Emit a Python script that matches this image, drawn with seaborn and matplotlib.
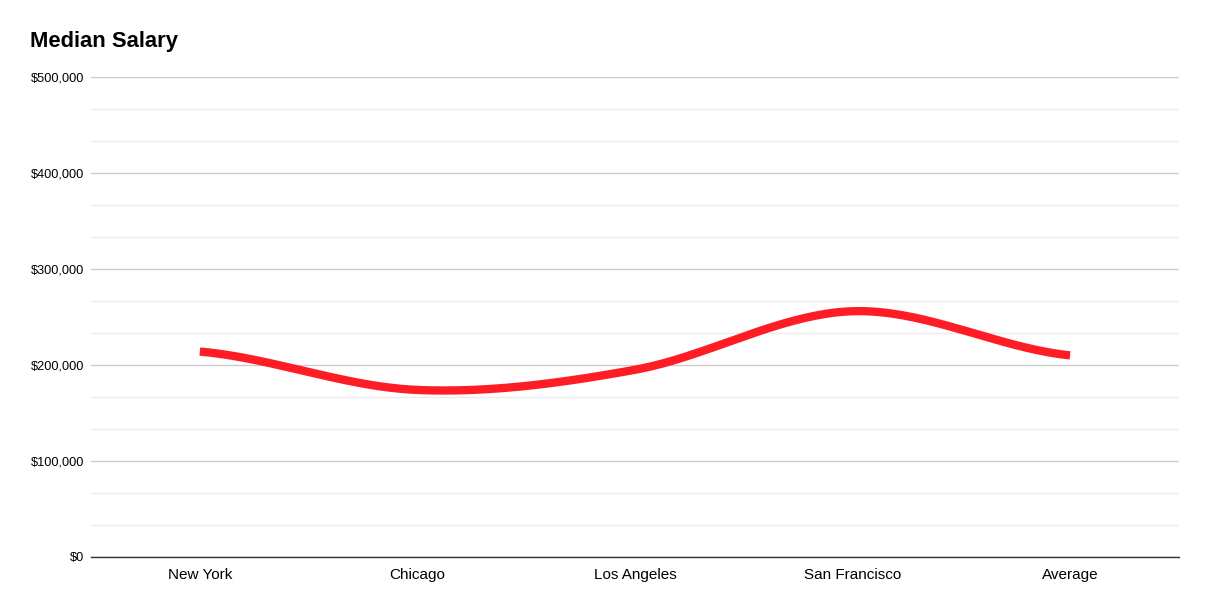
import numpy as np
import pandas as pd
import matplotlib.pyplot as plt
import seaborn as sns
from matplotlib.ticker import FuncFormatter, MultipleLocator

cities = ["New York", "Chicago", "Los Angeles", "San Francisco", "Average"]
salaries = [214000, 174000, 195000, 256000, 210000]

sns.set_style("white")
plt.rcParams["font.family"] = ["Liberation Sans", "DejaVu Sans"]


def smooth(y, n=40):
    # Catmull-Rom style curve through the points, like the "smooth" line option
    y = np.asarray(y, dtype=float)
    p = np.concatenate([[y[0]], y, [y[-1]]])
    xs, ys = [], []
    for i in range(len(y) - 1):
        p0, p1, p2, p3 = p[i], p[i + 1], p[i + 2], p[i + 3]
        m1 = (p2 - p0) / 2
        m2 = (p3 - p1) / 2
        t = np.linspace(0, 1, n, endpoint=(i == len(y) - 2))
        h00 = 2 * t**3 - 3 * t**2 + 1
        h10 = t**3 - 2 * t**2 + t
        h01 = -2 * t**3 + 3 * t**2
        h11 = t**3 - t**2
        xs.append(i + t)
        ys.append(h00 * p1 + h10 * m1 + h01 * p2 + h11 * m2)
    return np.concatenate(xs), np.concatenate(ys)


cx, cy = smooth(salaries)
curve = pd.DataFrame({"pos": cx, "salary": cy})

fig = plt.figure(figsize=(12.06, 6.10), dpi=100)
ax = fig.add_axes([0.0755, 0.0869, 0.902, 0.7869])

sns.lineplot(data=curve, x="pos", y="salary", color="#FF1D25", linewidth=6,
             solid_capstyle="butt", ax=ax, sort=False)

ax.set_xlim(-0.5, len(cities) - 0.5)
ax.set_ylim(0, 500000)
ax.set_xticks(range(len(cities)))
ax.set_xticklabels(cities)
ax.yaxis.set_major_locator(MultipleLocator(100000))
ax.yaxis.set_minor_locator(MultipleLocator(100000 / 3))
ax.yaxis.set_major_formatter(FuncFormatter(lambda v, _: f"${v:,.0f}"))
ax.grid(axis="y", which="major", color="#cccccc", linewidth=1)
ax.grid(axis="y", which="minor", color="#ebebeb", linewidth=1)
ax.set_axisbelow(True)
ax.tick_params(axis="both", which="both", length=0, colors="#000000")
ax.tick_params(axis="x", pad=8, labelsize=11)
ax.tick_params(axis="y", pad=5, labelsize=9.2)
ax.set_xlabel("")
ax.set_ylabel("")
for side in ["top", "right", "left"]:
    ax.spines[side].set_visible(False)
ax.spines["bottom"].set_color("#333333")
ax.spines["bottom"].set_linewidth(1)

fig.text(0.025, 0.932, "Median Salary", fontsize=15.8, fontweight="bold",
         color="#000000", ha="left", va="center")

plt.savefig("out.png", dpi=100)
